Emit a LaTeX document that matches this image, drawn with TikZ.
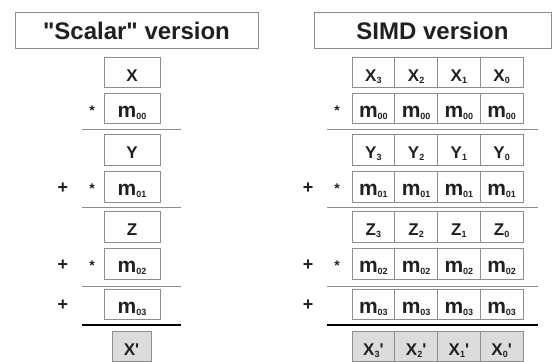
\documentclass[tikz,border=0pt]{standalone}
\usepackage{fontspec}
\setmainfont{Liberation Sans}[Ligatures=TeXOff]
\usetikzlibrary{positioning}

\definecolor{boxline}{HTML}{8C8C8C}
\definecolor{resfill}{HTML}{DCDCDC}
\definecolor{ink}{HTML}{202020}

% lowered index
\newcommand{\idx}[1]{\raisebox{-2pt}{\fontsize{9}{9}\selectfont #1}}
% the big m of the matrix entries
\newcommand{\mtx}[1]{{\fontsize{21}{21}\selectfont m}\idx{#1}}

\begin{document}
\begin{tikzpicture}[
    x=1pt, y=-1pt,
    header/.style={
        rectangle,
        draw=boxline,
        line width=1pt,
        minimum height=36pt,
        inner sep=0pt,
        text=ink,
        font=\bfseries\fontsize{24}{24}\selectfont
    },
    cell/.style={
        rectangle,
        draw=boxline,
        line width=0.8pt,
        fill=#1,
        minimum width=56pt,
        minimum height=30.5pt,
        inner sep=0pt,
        text height=17pt,
        text depth=0pt,
        text=ink,
        font=\bfseries\fontsize{17}{17}\selectfont
    },
    cell/.default=white,
    lane/.style={
        cell=#1,
        minimum width=42.75pt
    },
    lane/.default=white,
    plus/.style={
        text=ink,
        inner sep=0pt,
        font=\bfseries\fontsize{18}{18}\selectfont
    },
    times/.style={
        text=ink,
        inner sep=0pt,
        font=\bfseries\fontsize{14}{14}\selectfont
    },
    rule/.style={
        draw=boxline,
        line width=0.8pt
    },
    total/.style={
        draw=black,
        line width=2.5pt
    }
]
\useasboundingbox (0,0) rectangle (553,361);

% Headers
\node[header, minimum width=243pt] (scalarhead) at (136.5,31) {"Scalar" version};
\node[header, minimum width=237pt] (simdhead) at (432.5,31) {SIMD version};

% Scalar column
\foreach \name/\y/\lab in {x/72.5/X, y/150/Y, z/227/Z}
    \node[cell] (scalar-\name) at (132,\y) {\lab};
\foreach \name/\y in {00/108.5, 01/187, 02/264, 03/304.5}
    \node[cell] (scalar-m\name) at (132,\y) {\mtx{\name}};
\node[cell=resfill, minimum width=39pt] (scalar-res) at (131.5,346.5) {X'};

% SIMD column, four lanes (lane 3 on the left)
\foreach \name/\y/\lab in {x/72.5/X, y/150/Y, z/227/Z}
    \foreach \i in {0,...,3} {
        \pgfmathtruncatemacro{\k}{3-\i}
        \node[lane] (simd-\name-\k) at (373.4+42.75*\i,\y) {\lab\idx{\k}};
    }
\foreach \name/\y in {00/108.5, 01/187, 02/264, 03/304.5}
    \foreach \i in {0,...,3} {
        \pgfmathtruncatemacro{\k}{3-\i}
        \node[lane] (simd-m\name-\k) at (373.4+42.75*\i,\y) {\mtx{\name}};
    }
\foreach \i in {0,...,3} {
    \pgfmathtruncatemacro{\k}{3-\i}
    \node[lane=resfill] (simd-res-\k) at (373.4+42.75*\i,346.5) {X\idx{\k}'};
}

% Operators
\foreach \name/\y in {m00/111, m01/189, m02/266} {
    \node[times] (scalar-times-\name) at (92,\y) {*};
    \node[times] (simd-times-\name) at (337,\y) {*};
}
\foreach \name/\y in {m01/188, m02/265, m03/305} {
    \node[plus] (scalar-plus-\name) at (63,\y) {+};
    \node[plus] (simd-plus-\name) at (308,\y) {+};
}

% Rules
\foreach \y in {129,207,286} {
    \draw[rule] (82,\y) -- (181,\y);
    \draw[rule] (327,\y) -- (538,\y);
}
\draw[total] (82,325) -- (181,325);
\draw[total] (327,325) -- (538,325);

\end{tikzpicture}
\end{document}
